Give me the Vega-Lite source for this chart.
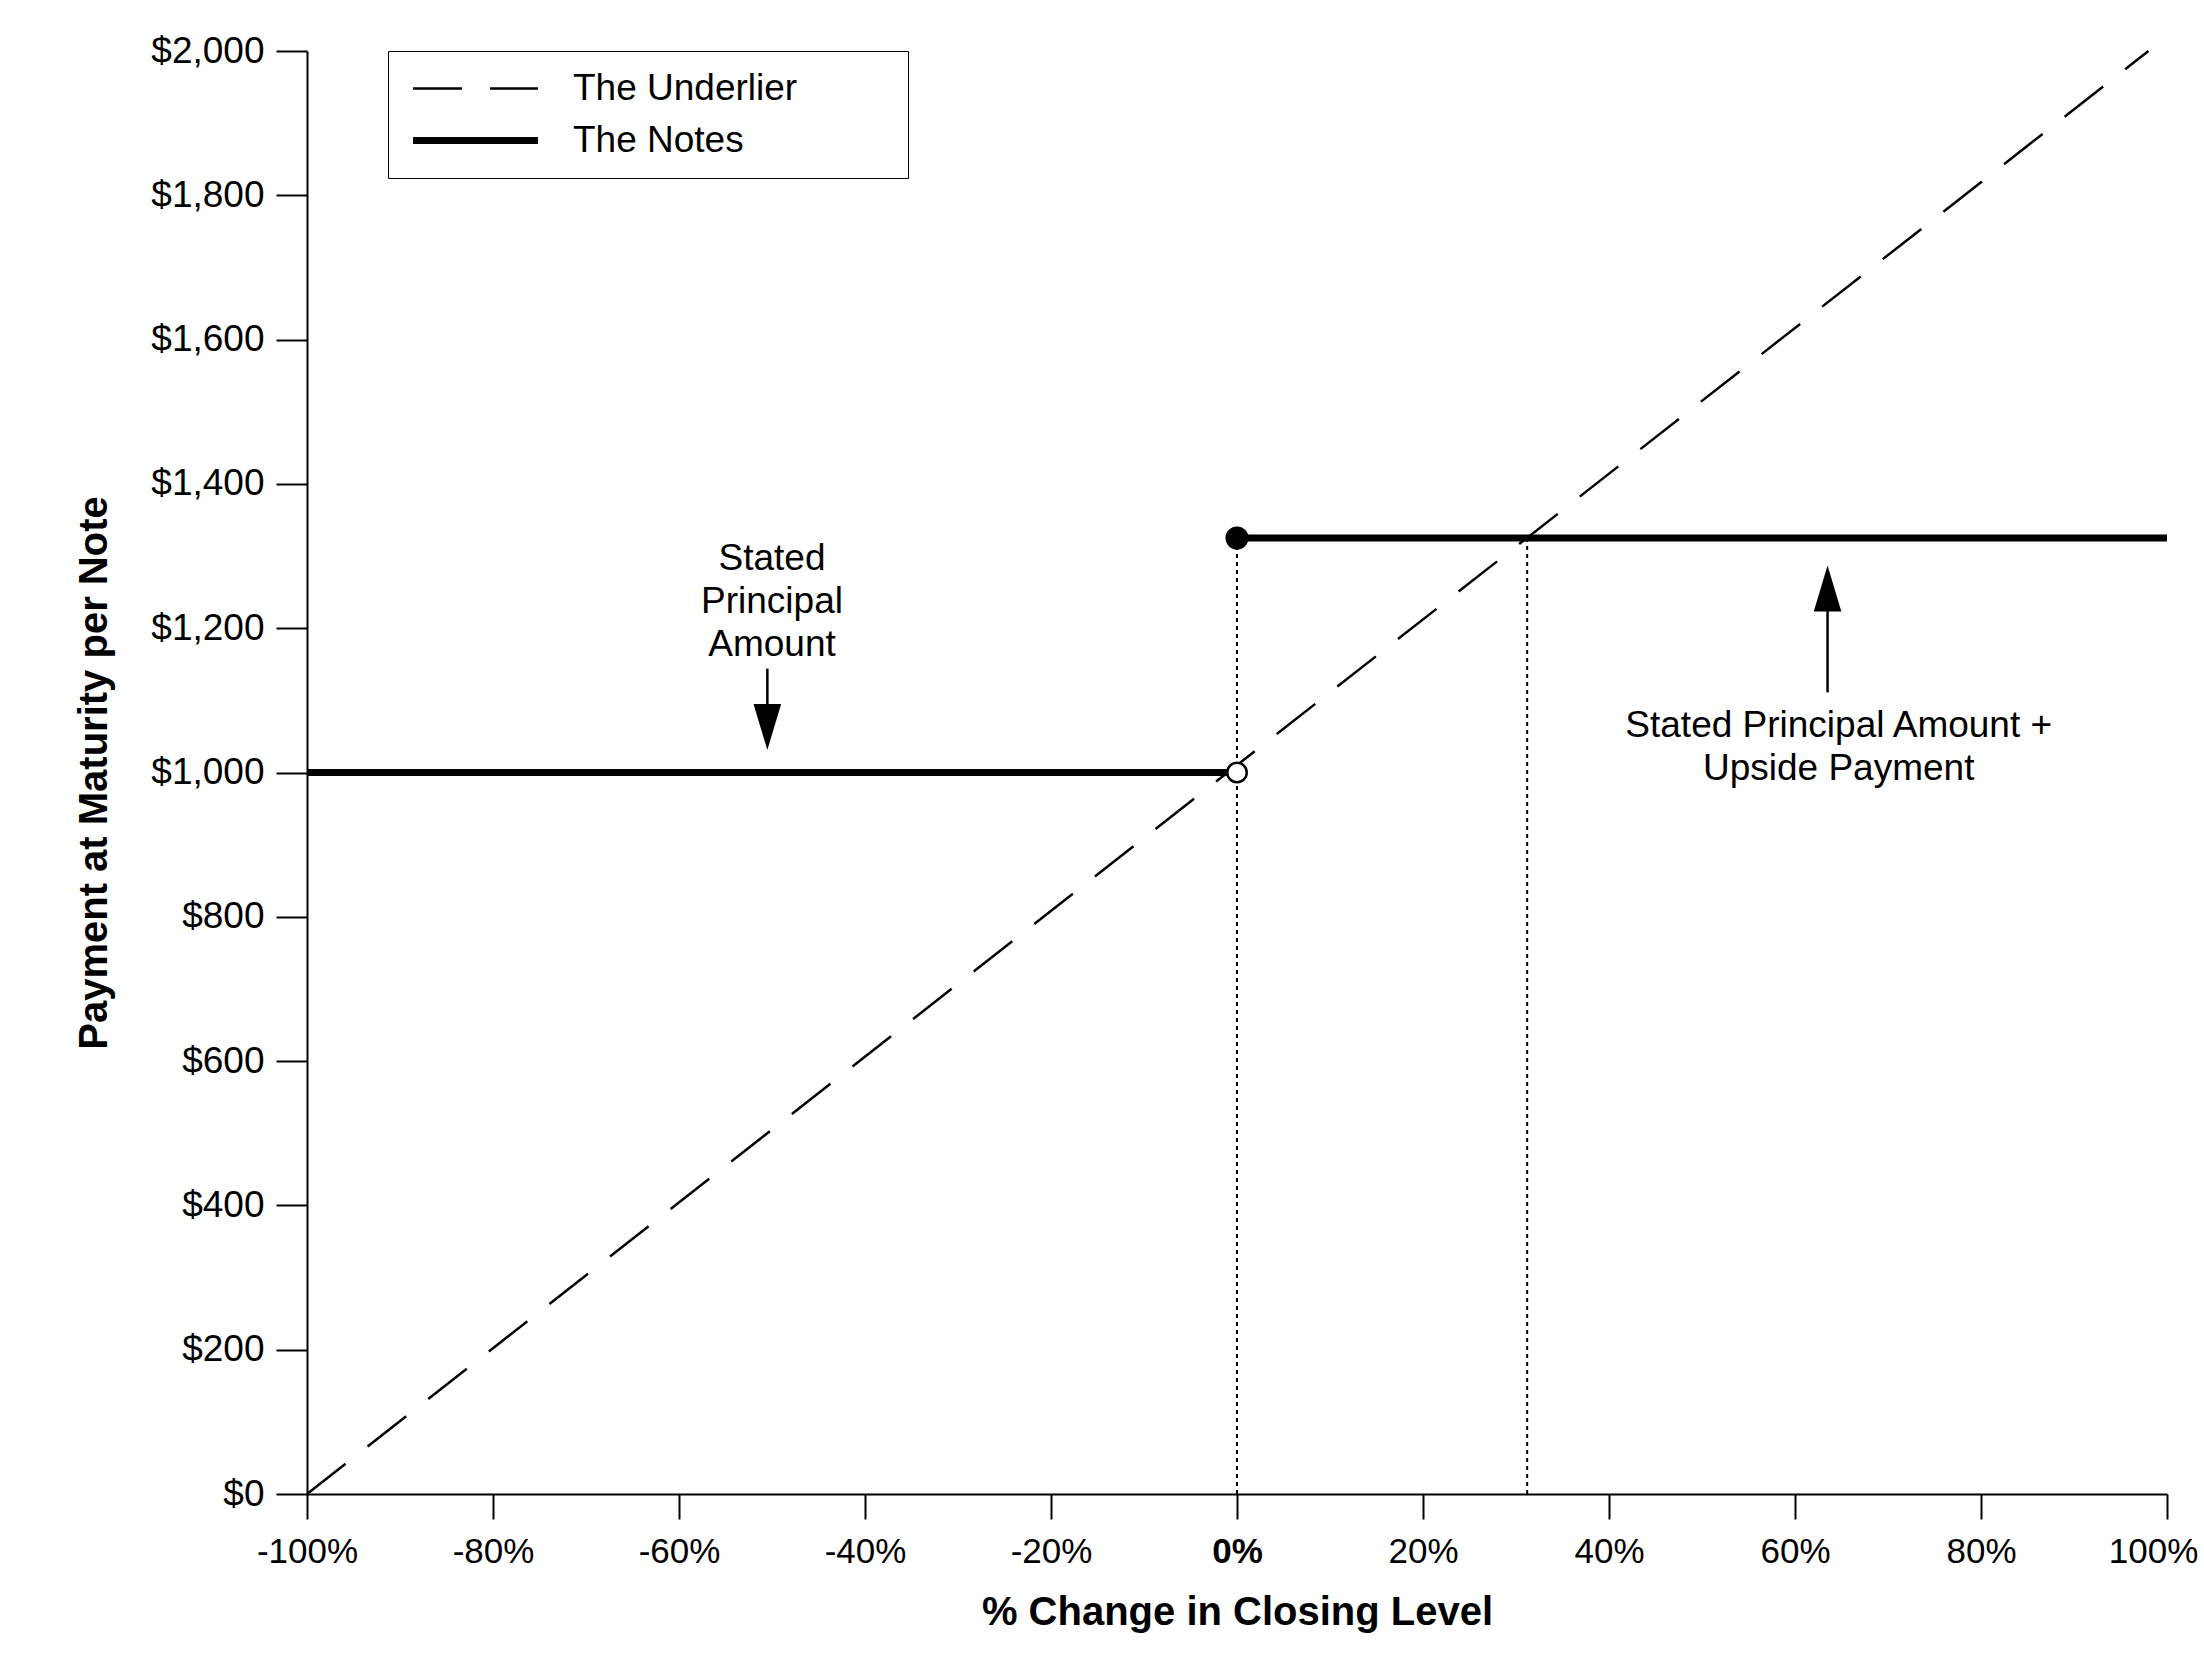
{
  "$schema": "https://vega.github.io/schema/vega-lite/v6.json",
  "width": 1860,
  "height": 1443,
  "autosize": {"type": "none"},
  "padding": {"left": 307, "top": 51, "right": 37, "bottom": 170},
  "background": "white",
  "config": {
    "font": "Liberation Sans",
    "view": {"stroke": null},
    "axis": {
      "grid": false,
      "domainColor": "black",
      "domainWidth": 2,
      "tickColor": "black",
      "tickWidth": 2,
      "labelColor": "black",
      "titleColor": "black",
      "labelFont": "Liberation Sans",
      "titleFont": "Liberation Sans",
      "labelFontSize": 37,
      "titleFontSize": 40,
      "titleFontWeight": "bold"
    }
  },
  "encoding": {
    "x": {
      "field": "pct",
      "type": "quantitative",
      "scale": {"domain": [-100, 100], "nice": false, "zero": false},
      "axis": {
        "title": "% Change in Closing Level",
        "values": [-100, -80, -60, -40, -20, 0, 20, 40, 60, 80, 100],
        "labelExpr": "datum.value + '%'",
        "labelFontSize": 35,
        "tickSize": 25,
        "labelPadding": 15,
        "titlePadding": 23,
        "labelFlush": false,
        "labelOverlap": false,
        "labelOffset": {"condition": {"test": "datum.value === 100", "value": -14}, "value": 0},
        "labelFontWeight": {"condition": {"test": "datum.value === 0", "value": "bold"}, "value": "normal"}
      }
    },
    "y": {
      "field": "payment",
      "type": "quantitative",
      "scale": {"domain": [0, 2000], "nice": false},
      "axis": {
        "title": "Payment at Maturity per Note",
        "values": [0, 200, 400, 600, 800, 1000, 1200, 1400, 1600, 1800, 2000],
        "format": "$,.0f",
        "tickSize": 31,
        "labelPadding": 12,
        "titlePadding": 36,
        "labelOverlap": false
      }
    }
  },
  "layer": [
    {
      "data": {
        "values": [
          {"pct": 0, "payment": 0, "payment2": 1325},
          {"pct": 31.2, "payment": 0, "payment2": 1325}
        ]
      },
      "mark": {"type": "rule", "color": "black", "strokeWidth": 2, "strokeDash": [4, 4]},
      "encoding": {"y2": {"field": "payment2"}}
    },
    {
      "data": {
        "values": [
          {"series": "The Underlier", "seg": "u", "pct": -100, "payment": 0},
          {"series": "The Underlier", "seg": "u", "pct": 98, "payment": 2000},
          {"series": "The Notes", "seg": "n1", "pct": -100, "payment": 1000},
          {"series": "The Notes", "seg": "n1", "pct": 0, "payment": 1000},
          {"series": "The Notes", "seg": "n2", "pct": 0, "payment": 1325},
          {"series": "The Notes", "seg": "n2", "pct": 100, "payment": 1325}
        ]
      },
      "mark": {"type": "line", "color": "black", "strokeCap": "butt"},
      "encoding": {
        "detail": {"field": "seg"},
        "strokeDash": {
          "field": "series",
          "type": "nominal",
          "scale": {"domain": ["The Underlier", "The Notes"], "range": [[49, 28], [1, 0]]},
          "legend": {
            "title": null,
            "orient": "none",
            "legendX": 81,
            "legendY": 0,
            "padding": 19,
            "strokeColor": "black",
            "fillColor": "white",
            "symbolType": "M-1,0H9M35.9,0",
            "symbolSize": 625,
            "symbolStrokeColor": "black",
            "labelFontSize": 37,
            "labelFont": "Liberation Sans",
            "labelColor": "black",
            "labelOffset": 129,
            "labelLimit": 600,
            "rowPadding": 14
          }
        },
        "strokeWidth": {
          "field": "series",
          "type": "ordinal",
          "scale": {"domain": ["The Underlier", "The Notes"], "range": [2.5, 7]},
          "legend": {
            "title": null,
            "orient": "none",
            "legendX": 81,
            "legendY": 0,
            "padding": 19,
            "strokeColor": "black",
            "fillColor": "white",
            "symbolType": "M-1,0H9M35.9,0",
            "symbolSize": 625,
            "symbolStrokeColor": "black",
            "labelFontSize": 37,
            "labelFont": "Liberation Sans",
            "labelColor": "black",
            "labelOffset": 129,
            "labelLimit": 600,
            "rowPadding": 14
          }
        }
      }
    },
    {
      "data": {
        "values": [
          {"pct": -50.5, "payment": 1144, "payment2": 1063},
          {"pct": 63.5, "payment": 1111, "payment2": 1255}
        ]
      },
      "mark": {"type": "rule", "color": "black", "strokeWidth": 2.5},
      "encoding": {"y2": {"field": "payment2"}}
    },
    {
      "data": {
        "values": [
          {"pct": -50.5, "payment": 1063, "dir": "down"},
          {"pct": 63.5, "payment": 1255, "dir": "up"}
        ]
      },
      "mark": {"type": "point", "filled": true, "color": "black", "opacity": 1, "size": 2116},
      "encoding": {
        "shape": {
          "field": "dir",
          "type": "nominal",
          "scale": {"domain": ["down", "up"], "range": ["M-0.6,-1L0.6,-1L0,1Z", "M-0.6,1L0.6,1L0,-1Z"]},
          "legend": null
        }
      }
    },
    {
      "data": {
        "values": [
          {"pct": -50, "payment": 1296, "label": "Stated\nPrincipal\nAmount"},
          {"pct": 64.7, "payment": 1064, "label": "Stated Principal Amount +\nUpside Payment"}
        ]
      },
      "mark": {
        "type": "text",
        "font": "Liberation Sans",
        "fontSize": 37,
        "color": "black",
        "align": "center",
        "baseline": "middle",
        "lineBreak": "\n",
        "lineHeight": 43
      },
      "encoding": {"text": {"field": "label"}}
    },
    {
      "data": {"values": [{"pct": 0, "payment": 1000}]},
      "mark": {"type": "point", "shape": "circle", "filled": true, "fill": "white", "stroke": "black", "strokeWidth": 2.5, "size": 380, "opacity": 1}
    },
    {
      "data": {"values": [{"pct": 0, "payment": 1325}]},
      "mark": {"type": "point", "shape": "circle", "filled": true, "color": "black", "size": 530, "opacity": 1}
    }
  ]
}
